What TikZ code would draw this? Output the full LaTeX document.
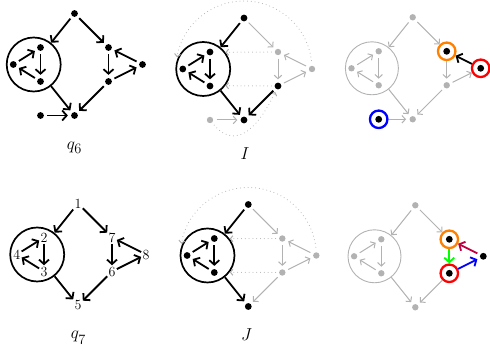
\documentclass[tikz,border=0pt]{standalone}
\usetikzlibrary{arrows.meta}
\definecolor{lg}{gray}{0.70}
\definecolor{dg}{gray}{0.68}
\newcommand{\subnum}[1]{\mbox{\fontsize{15}{15}\selectfont$\oldstylenums{#1}$}}
\tikzset{
  bdot/.style={circle,fill=black,inner sep=0pt,minimum size=6.8pt,outer sep=3.2pt},
  gdot/.style={circle,fill=lg,inner sep=0pt,minimum size=6.4pt,outer sep=3.4pt},
  comp/.style={circle,draw=black,line width=1.7pt,minimum size=54pt,inner sep=0pt},
  gcomp/.style={circle,draw=lg,line width=0.9pt,minimum size=53pt,inner sep=0pt},
  ring/.style={circle,draw=#1,line width=2.3pt,minimum size=17.5pt,inner sep=0pt},
  num/.style={inner sep=1.2pt,font=\fontsize{14}{16}\selectfont},
  bar/.style={line width=1.8pt,-{Straight Barb[length=4.5pt,width=10pt]}},
  gar/.style={draw=lg,line width=1pt,-{Straight Barb[length=3.5pt,width=7.5pt]}},
  dar/.style={draw=dg,line width=1pt,line cap=round,dash pattern=on 0pt off 3.8pt,-{Straight Barb[length=2.5pt,width=6pt]}},
  lab/.style={anchor=base,font=\fontsize{19}{22}\selectfont},
}
\begin{document}
\begin{tikzpicture}[x=1pt,y=1pt]
\useasboundingbox (0,0) rectangle (490,352);
% ---------- panel 1 : q6
\begin{scope}[x=34pt,y=34pt,shift={(74.5pt,338.5pt)}]
  \node[bdot] (a1) at (0,0) {};
  \node[bdot] (a2) at (-1,-1) {};
  \node[bdot] (a3) at (-1,-2) {};
  \node[bdot] (a4) at (-1.8,-1.5) {};
  \node[bdot] (a7) at (1,-1) {};
  \node[bdot] (a6) at (1,-2) {};
  \node[bdot] (a8) at (2,-1.5) {};
  \node[bdot] (a5) at (0,-3) {};
  \node[bdot] (ax) at (-1,-3) {};
  \node[comp] (ac) at (-1.2,-1.5) {};
  \draw[bar] (a1) -- (ac);
  \draw[bar] (a1) -- (a7);
  \draw[bar] (a2) -- (a3);
  \draw[bar] (a4) -- (a2);
  \draw[bar] (a3) -- (a4);
  \draw[bar] (ac) -- (a5);
  \draw[bar] (a7) -- (a6);
  \draw[bar] (a6) -- (a8);
  \draw[bar] (a8) -- (a7);
  \draw[bar] (a6) -- (a5);
  \draw[bar] (ax) -- (a5);
\end{scope}
% ---------- panel 2 : I
\begin{scope}[x=34pt,y=34pt,shift={(244pt,334pt)}]
  \coordinate (bo) at (0,-1.5);
  \node[bdot] (b1) at (0,0) {};
  \node[bdot] (b2) at (-1,-1) {};
  \node[bdot] (b3) at (-1,-2) {};
  \node[bdot] (b4) at (-1.8,-1.5) {};
  \node[gdot] (b7) at (1,-1) {};
  \node[bdot] (b6) at (1,-2) {};
  \node[gdot] (b8) at (2,-1.5) {};
  \node[bdot] (b5) at (0,-3) {};
  \node[gdot] (bx) at (-1,-3) {};
  \node[comp] (bc) at (-1.2,-1.5) {};
  \draw[dar] (b7) -- (bc.37);
  \draw[dar] (b6) -- (bc.-37);
  \draw[dar] ([shift={(7:2)}]bo) arc[start angle=7,end angle=170,radius=2];
  \draw[dar] (bx) to[out=-50,in=-115,looseness=1.3] (b6);
  \draw[gar] (b1) -- (b7);
  \draw[gar] (b7) -- (b6);
  \draw[gar] (b8) -- (b7);
  \draw[gar] (b6) -- (b8);
  \draw[gar] (bx) -- (b5);
  \draw[bar] (b1) -- (bc);
  \draw[bar] (b2) -- (b3);
  \draw[bar] (b4) -- (b2);
  \draw[bar] (b3) -- (b4);
  \draw[bar] (bc) -- (b5);
  \draw[bar] (b6) -- (b5);
\end{scope}
% ---------- panel 3
\begin{scope}[x=34pt,y=34pt,shift={(412.7pt,334.7pt)}]
  \node[gdot] (c1) at (0,0) {};
  \node[gdot] (c2) at (-1,-1) {};
  \node[gdot] (c3) at (-1,-2) {};
  \node[gdot] (c4) at (-1.8,-1.5) {};
  \node[ring=orange] (c7) at (1,-1) {};
  \node[bdot] (c7d) at (c7) {};
  \node[gdot] (c6) at (1,-2) {};
  \node[ring=red] (c8) at (2,-1.5) {};
  \node[bdot] (c8d) at (c8) {};
  \node[gdot] (c5) at (0,-3) {};
  \node[ring=blue] (cx) at (-1,-3) {};
  \node[bdot] (cxd) at (cx) {};
  \node[gcomp] (cc) at (-1.2,-1.5) {};
  \draw[gar] (c1) -- (cc);
  \draw[gar] (c1) -- (c7);
  \draw[gar] (c2) -- (c3);
  \draw[gar] (c4) -- (c2);
  \draw[gar] (c3) -- (c4);
  \draw[gar] (cc) -- (c5);
  \draw[gar] (c7) -- (c6);
  \draw[gar] (c6) -- (c8);
  \draw[gar] (c6) -- (c5);
  \draw[gar] (cx) -- (c5);
  \draw[bar] (c8) -- (c7);
\end{scope}
% ---------- panel 4 : q7
\begin{scope}[x=34pt,y=34pt,shift={(78pt,148.5pt)}]
  \node[num] (d1) at (0,0) {1};
  \node[num] (d2) at (-1,-1) {2};
  \node[num] (d3) at (-1,-2) {3};
  \node[num] (d4) at (-1.8,-1.5) {4};
  \node[num] (d7) at (1,-1) {7};
  \node[num] (d6) at (1,-2) {6};
  \node[num] (d8) at (2,-1.5) {8};
  \node[num] (d5) at (0,-3) {5};
  \node[comp] (dc) at (-1.2,-1.5) {};
  \draw[bar] (d1) -- (dc);
  \draw[bar] (d1) -- (d7);
  \draw[bar] (d2) -- (d3);
  \draw[bar] (d4) -- (d2);
  \draw[bar] (d3) -- (d4);
  \draw[bar] (dc) -- (d5);
  \draw[bar] (d7) -- (d6);
  \draw[bar] (d6) -- (d8);
  \draw[bar] (d8) -- (d7);
  \draw[bar] (d6) -- (d5);
\end{scope}
% ---------- panel 5 : J
\begin{scope}[x=34pt,y=34pt,shift={(248.3pt,147.5pt)}]
  \coordinate (eo) at (0,-1.5);
  \node[bdot] (e1) at (0,0) {};
  \node[bdot] (e2) at (-1,-1) {};
  \node[bdot] (e3) at (-1,-2) {};
  \node[bdot] (e4) at (-1.8,-1.5) {};
  \node[gdot] (e7) at (1,-1) {};
  \node[gdot] (e6) at (1,-2) {};
  \node[gdot] (e8) at (2,-1.5) {};
  \node[bdot] (e5) at (0,-3) {};
  \node[comp] (ec) at (-1.2,-1.5) {};
  \draw[dar] (e7) -- (ec.37);
  \draw[dar] (e6) -- (ec.-37);
  \draw[dar] ([shift={(7:2)}]eo) arc[start angle=7,end angle=170,radius=2];
  \draw[gar] (e1) -- (e7);
  \draw[gar] (e7) -- (e6);
  \draw[gar] (e8) -- (e7);
  \draw[gar] (e6) -- (e8);
  \draw[gar] (e6) -- (e5);
  \draw[bar] (e1) -- (ec);
  \draw[bar] (e2) -- (e3);
  \draw[bar] (e4) -- (e2);
  \draw[bar] (e3) -- (e4);
  \draw[bar] (ec) -- (e5);
\end{scope}
% ---------- panel 6
\begin{scope}[x=34pt,y=34pt,shift={(415.3pt,146.7pt)}]
  \node[gdot] (f1) at (0,0) {};
  \node[gdot] (f2) at (-1,-1) {};
  \node[gdot] (f3) at (-1,-2) {};
  \node[gdot] (f4) at (-1.8,-1.5) {};
  \node[ring=orange] (f7) at (1,-1) {};
  \node[bdot] (f7d) at (f7) {};
  \node[ring=red] (f6) at (1,-2) {};
  \node[bdot] (f6d) at (f6) {};
  \node[bdot] (f8) at (2,-1.5) {};
  \node[gdot] (f5) at (0,-3) {};
  \node[gcomp] (fc) at (-1.2,-1.5) {};
  \draw[gar] (f1) -- (fc);
  \draw[gar] (f1) -- (f7);
  \draw[gar] (f2) -- (f3);
  \draw[gar] (f4) -- (f2);
  \draw[gar] (f3) -- (f4);
  \draw[gar] (fc) -- (f5);
  \draw[gar] (f6) -- (f5);
  \draw[bar,draw=purple] (f8) -- (f7);
  \draw[bar,draw=green] (f7) -- (f6);
  \draw[bar,draw=blue] (f6) -- (f8);
\end{scope}
% ---------- labels
\node[lab] (lq6) at (74.5,202) {$q_{\subnum{6}}$};
\node[lab] (lI) at (245,192.5) {$I$};
\node[lab] (lq7) at (78.3,13) {$q_{\subnum{7}}$};
\node[lab] (lJ) at (246.7,11) {$J$};
\end{tikzpicture}
\end{document}
